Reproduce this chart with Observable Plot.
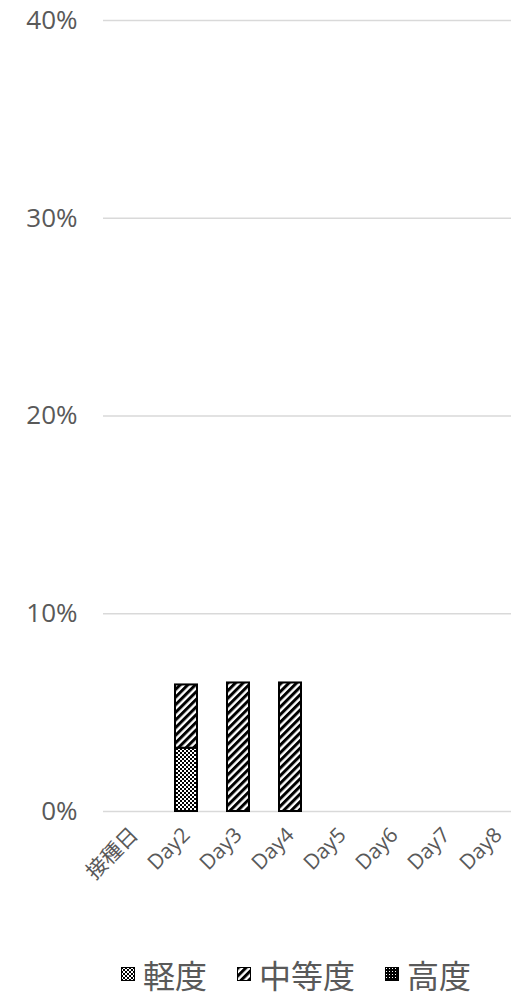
<!DOCTYPE html>
<html>
<head>
<meta charset="utf-8">
<script src="https://cdn.jsdelivr.net/npm/d3@7"></script>
<script src="https://cdn.jsdelivr.net/npm/@observablehq/plot@0.6"></script>
<style>
  html, body { margin: 0; padding: 0; background: #fff; }
  body { width: 511px; height: 998px; overflow: hidden; font-family: "Open Sans", "Noto Sans CJK JP", sans-serif; }
  #legend { display: flex; align-items: center; margin-left: 121px; height: 68px; font-family: "Noto Sans CJK JP", sans-serif; font-size: 32px; color: #595959; }
  #legend .item { display: flex; align-items: center; margin-right: 30px; }
  #legend svg { margin-right: 8px; }
</style>
</head>
<body>
<div id="chart"></div>
<div id="legend"></div>
<script>
const categories = ["接種日", "Day2", "Day3", "Day4", "Day5", "Day6", "Day7", "Day8"];
const severities = ["軽度", "中等度", "高度"];
const mild     = [0, 3.2, 0,   0,   0, 0, 0, 0];
const moderate = [0, 3.2, 6.5, 6.5, 0, 0, 0, 0];
const severe   = [0, 0,   0,   0,   0, 0, 0, 0];
const yTicks = [0, 10, 20, 30, 40];

const patternIds = {"軽度": "pat-mild", "中等度": "pat-moderate", "高度": "pat-severe"};
const seriesValues = [mild, moderate, severe];

const rows = [];
categories.forEach((c, i) => {
  severities.forEach((s, j) => {
    const v = seriesValues[j][i];
    if (v > 0) rows.push({day: c, severity: s, value: v});
  });
});

const W = 511, H = 940;
const chart = Plot.plot({
  width: W,
  height: H,
  marginLeft: 103,
  marginRight: 0,
  marginTop: 20,
  marginBottom: 129,
  style: {fontFamily: '"Open Sans", "Noto Sans CJK JP", sans-serif', color: "#595959", background: "#fff"},
  x: {domain: categories, range: [106, 526], paddingInner: 0.58, paddingOuter: 0.29, label: null},
  y: {domain: [0, 40], label: null},
  marks: [
    Plot.ruleY(yTicks, {stroke: "#d9d9d9", strokeWidth: 1.3}),
    Plot.barY(rows, Plot.stackY({
      x: "day", y: "value", z: "severity", order: severities,
      fill: d => `url(#${patternIds[d.severity]})`,
      stroke: "#000", strokeWidth: 2
    })),
    Plot.axisY(yTicks, {tickSize: 0, tickPadding: 26, fontSize: 26, tickFormat: d => d + "%", fill: "#595959"}),
    Plot.axisX({tickSize: 0, tickRotate: -45, tickPadding: 20, fontSize: 21, fill: "#595959"})
  ]
});

// pattern definitions
function addPatterns(svg) {
  const defs = svg.insert("defs", ":first-child");
  const m = defs.append("pattern").attr("id", "pat-mild").attr("patternUnits", "userSpaceOnUse").attr("width", 4).attr("height", 4);
  m.append("rect").attr("width", 4).attr("height", 4).attr("fill", "#fff");
  m.append("rect").attr("width", 2).attr("height", 2).attr("fill", "#000");
  m.append("rect").attr("x", 2).attr("y", 2).attr("width", 2).attr("height", 2).attr("fill", "#000");
  const d = defs.append("pattern").attr("id", "pat-moderate").attr("patternUnits", "userSpaceOnUse").attr("width", 5.4).attr("height", 5.4).attr("patternTransform", "rotate(45)");
  d.append("rect").attr("width", 5.4).attr("height", 5.4).attr("fill", "#fff");
  d.append("rect").attr("width", 3).attr("height", 5.4).attr("fill", "#000");
  const s = defs.append("pattern").attr("id", "pat-severe").attr("patternUnits", "userSpaceOnUse").attr("width", 3).attr("height", 3);
  s.append("rect").attr("width", 3).attr("height", 3).attr("fill", "#000");
  s.append("rect").attr("x", 1).attr("y", 1).attr("width", 1).attr("height", 1).attr("fill", "#fff");
}
addPatterns(d3.select(chart));
document.getElementById("chart").appendChild(chart);

// legend
const legend = d3.select("#legend");
severities.forEach(s => {
  const item = legend.append("div").attr("class", "item");
  const sw = item.append("svg").attr("width", 14).attr("height", 14);
  addPatterns(sw);
  sw.append("rect").attr("x", 0.5).attr("y", 0.5).attr("width", 13).attr("height", 13)
    .attr("fill", `url(#${patternIds[s]})`).attr("stroke", "#000").attr("stroke-width", 1);
  item.append("span").text(s);
});
</script>
</body>
</html>
